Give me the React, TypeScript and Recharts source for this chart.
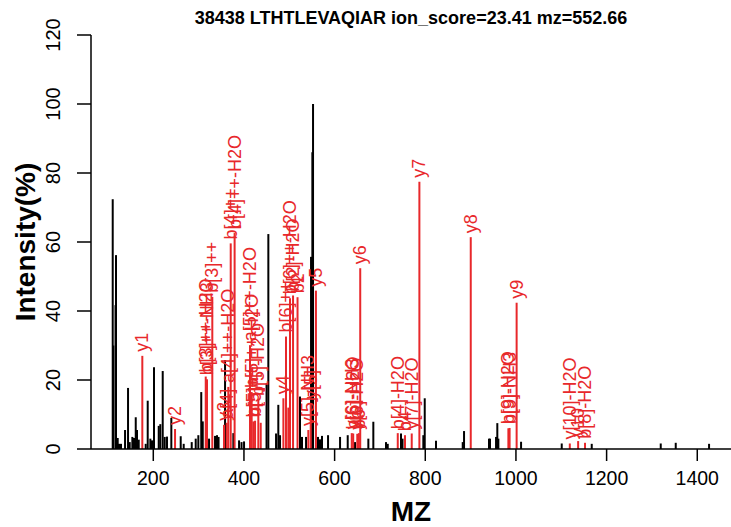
import { ScatterChart, Scatter, XAxis, YAxis, ErrorBar } from "recharts";

const FONT = "'Liberation Sans', Arial, Helvetica, sans-serif";
const RED = "#e8282b";

const title = "38438 LTHTLEVAQIAR ion_score=23.41 mz=552.66";
const xTicks = [200, 400, 600, 800, 1000, 1200, 1400];
const yTicks = [0, 20, 40, 60, 80, 100, 120];

// unmatched peaks (black)
const peakMz = [
  110.5, 111.8, 116.7, 117.8, 121.5, 124.4, 128.8, 137.7, 144.3, 148.0,
  153.8, 157.5, 161.3, 164.1, 167.9, 183.3, 187.7, 193.5, 197.2, 201.6,
  212.0, 215.5, 220.8, 225.2, 230.3, 239.8, 260.5, 267.1, 284.8, 293.6,
  299.4, 305.8, 309.1, 323.0, 336.2, 340.6, 344.0, 358.3, 376.6, 389.2,
  394.7, 400.2, 449.8, 453.8, 470.8, 475.8, 479.6, 523.7, 528.1, 537.0,
  548.0, 550.9, 552.4, 563.4, 567.8, 572.2, 585.5, 612.0, 628.9, 645.0,
  674.4, 685.4, 713.4, 717.2, 746.5, 749.8, 795.7, 798.8, 823.7, 882.6,
  885.5, 940.6, 942.8, 956.1, 958.9, 961.2, 1011.3, 1101.0, 1167.2, 1319.4,
  1352.5, 1426.0,
];
const peakInt = [
  72.4, 30.0, 41.7, 56.2, 3.2, 1.5, 1.5, 5.5, 17.7, 2.0,
  3.5, 3.2, 9.2, 5.5, 2.7, 1.5, 14.0, 3.0, 2.5, 23.7,
  6.7, 7.2, 22.6, 3.5, 3.6, 9.0, 3.7, 1.5, 2.0, 3.0,
  4.0, 16.5, 8.0, 3.0, 3.8, 4.0, 3.5, 25.8, 4.6, 2.5,
  2.0, 2.2, 19.0, 62.3, 4.5, 12.8, 4.0, 15.2, 3.5, 3.5,
  55.7, 86.0, 100.0, 3.5, 2.8, 3.8, 4.0, 3.5, 4.0, 2.0,
  3.0, 7.9, 2.0, 1.5, 4.5, 3.0, 4.0, 14.7, 2.4, 2.0,
  5.2, 3.0, 3.0, 3.5, 7.5, 3.0, 2.1, 1.6, 1.5, 1.6,
  1.8, 1.5,
];

// matched fragment ions (red)
const ionMz = [
  175.8, 248.0, 315.7, 318.5, 330.2, 356.0, 362.0, 365.5, 370.8, 379.4,
  413.3, 417.0, 420.7, 424.5, 431.7, 437.0, 487.0, 492.8, 497.9, 501.6,
  508.3, 518.2, 542.0, 547.3, 558.8, 637.8, 641.0, 650.0, 653.5, 656.5,
  739.3, 755.3, 770.1, 787.0, 900.3, 983.3, 986.0, 1001.5, 1118.8, 1137.2,
  1152.4,
];
const ionInt = [
  27.0, 5.8, 21.0, 20.2, 44.1, 7.0, 7.6, 18.0, 59.6, 62.6,
  30.1, 16.5, 8.0, 8.2, 14.2, 7.6, 14.7, 32.6, 12.0, 43.7,
  44.5, 44.0, 5.5, 13.3, 45.9, 4.6, 4.5, 4.4, 4.6, 52.4,
  4.6, 4.0, 4.5, 77.5, 61.4, 6.0, 6.1, 42.4, 1.6, 2.3,
  1.8,
];
const ionLabel = [
  "y1", "y2", "b[3]++-H2O", "b[3]++-NH3", "b[3]++", "y3", "a[4]", "a[4]++-H2O", "b[4]++", "b[4]++-H2O",
  "a[5]++-H2O", "b[5]++-H2O", "b[5]++", "b[5]", "b[5]-H2O", "", "y4", "b[6]++", "", "b[6]++-H2O",
  "b[2]-H2O", "b2", "y[5]-NH3", "y[5]", "y5", "y[6]-NH3", "b[6]-H2O", "y[6]-H2O", "b6", "y6",
  "b[4]-H2O", "b4", "y[7]-H2O", "y7", "y8", "b[9]-H2O", "b[9]-NH3", "y9", "y[10]-H2O", "y10",
  "b[8]-H2O",
];

const peaks = peakMz.map((mz, i) => ({ mz, inten: peakInt[i], err: [peakInt[i], 0] }));
const ions = ionMz.map((mz, i) => ({
  mz,
  inten: ionInt[i],
  err: [ionInt[i], 0],
  label: ionLabel[i],
}));

const XTick = ({ x, y, payload }: any) => (
  <text x={x} y={y + 24} textAnchor="middle" fontSize={19.5} fontFamily={FONT} fill="#000">
    {payload.value}
  </text>
);

const YTick = ({ x, y, payload }: any) => {
  const bx = x - 17;
  return (
    <text
      x={bx}
      y={y}
      transform={`rotate(-90 ${bx} ${y})`}
      textAnchor="middle"
      fontSize={20}
      fontFamily={FONT}
      fill="#000"
    >
      {payload.value}
    </text>
  );
};

// label sits just above the top of each matched peak
const IonLabel = (props: any) => {
  const { cx, cy, payload } = props;
  if (!payload.label) return <g />;
  const lx = cx + 6;
  const ly = cy - 4;
  return (
    <text
      x={lx}
      y={ly}
      transform={`rotate(-90 ${lx} ${ly})`}
      fontSize={18}
      fontFamily={FONT}
      fill={RED}
    >
      {payload.label}
    </text>
  );
};

export default function App() {
  return (
    <div style={{ position: "absolute", left: 0, top: 0, width: 731, height: 527, background: "#fff" }}>
      <ScatterChart width={731} height={527} margin={{ top: 35, right: 0, bottom: 0, left: 0 }}>
        <XAxis
          type="number"
          dataKey="mz"
          domain={[62.6, 1474.4]}
          allowDataOverflow
          ticks={xTicks}
          tick={<XTick />}
          tickSize={12}
          tickMargin={0}
          height={78}
          stroke="#000"
          strokeWidth={1.5}
        />
        <YAxis
          type="number"
          dataKey="inten"
          domain={[0, 120]}
          allowDataOverflow
          ticks={yTicks}
          tick={<YTick />}
          tickSize={14}
          tickMargin={0}
          width={91}
          stroke="#000"
          strokeWidth={1.5}
        />
        <Scatter data={peaks} shape={() => <g />} isAnimationActive={false}>
          <ErrorBar dataKey="err" direction="y" width={0} stroke="#000" strokeWidth={2} isAnimationActive={false} />
        </Scatter>
        <Scatter data={ions} shape={<IonLabel />} isAnimationActive={false}>
          <ErrorBar dataKey="err" direction="y" width={0} stroke={RED} strokeWidth={2} isAnimationActive={false} />
        </Scatter>
        <text x={411} y={24} textAnchor="middle" fontSize={18} fontWeight="bold" fontFamily={FONT} fill="#000">
          {title}
        </text>
        <text x={411} y={521} textAnchor="middle" fontSize={28} fontWeight="bold" fontFamily={FONT} fill="#000">
          MZ
        </text>
        <text
          x={35}
          y={242}
          transform="rotate(-90 35 242)"
          textAnchor="middle"
          fontSize={28}
          fontWeight="bold"
          fontFamily={FONT}
          fill="#000"
        >
          Intensity(%)
        </text>
      </ScatterChart>
    </div>
  );
}
